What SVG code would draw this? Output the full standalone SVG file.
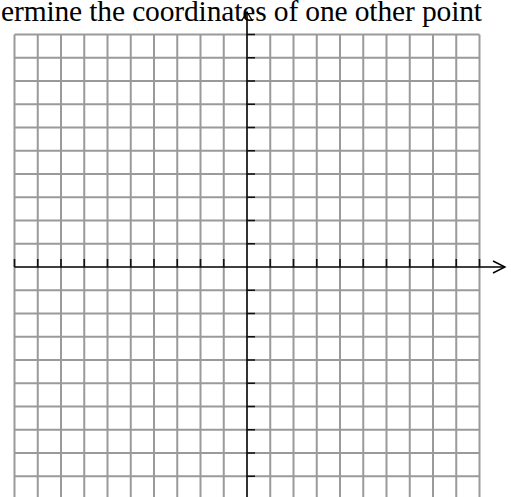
<svg xmlns="http://www.w3.org/2000/svg" width="511" height="497" viewBox="0 0 511 497">
<style>
.grid{stroke:#9a9a9a;stroke-width:2;fill:none}
.axis{stroke:#000;stroke-width:1.6;fill:none}
.tick{stroke:#111;stroke-width:1.6;fill:none}
.arrow{stroke:#000;stroke-width:1.4;fill:none}
.title{font-family:"Liberation Serif","Times New Roman",serif;font-size:29.5px;fill:#000}
</style>
<rect width="511" height="497" fill="#fff"/>
<text id="title" class="title" x="1" y="21" textLength="481" lengthAdjust="spacing">ermine the coordinates of one other point</text>
<g id="grid">
<path class="grid" d="M14.5 34.5V497M37.75 34.5V497M61 34.5V497M84.25 34.5V497M107.5 34.5V497M130.75 34.5V497M154 34.5V497M177.25 34.5V497M200.5 34.5V497M223.75 34.5V497M270.25 34.5V497M293.5 34.5V497M316.75 34.5V497M340 34.5V497M363.25 34.5V497M386.5 34.5V497M409.75 34.5V497M433 34.5V497M456.25 34.5V497M479.5 34.5V497"/>
<path class="grid" d="M14.5 34.5H479.5M14.5 57.75H479.5M14.5 81H479.5M14.5 104.25H479.5M14.5 127.5H479.5M14.5 150.75H479.5M14.5 174H479.5M14.5 197.25H479.5M14.5 220.5H479.5M14.5 243.75H479.5M14.5 290.25H479.5M14.5 313.5H479.5M14.5 336.75H479.5M14.5 360H479.5M14.5 383.25H479.5M14.5 406.5H479.5M14.5 429.75H479.5M14.5 453H479.5M14.5 476.25H479.5"/>
</g>
<g id="axes">
<path class="axis" d="M14.5 267H505M247 12V497"/>
<path class="arrow" d="M493 261L505 267L493 273M241.5 21L247 12L252.5 21"/>
<path class="tick" d="M14.5 259V267M37.75 259V267M61 259V267M84.25 259V267M107.5 259V267M130.75 259V267M154 259V267M177.25 259V267M200.5 259V267M223.75 259V267M270.25 259V267M293.5 259V267M316.75 259V267M340 259V267M363.25 259V267M386.5 259V267M409.75 259V267M433 259V267M456.25 259V267M479.5 259V267"/>
<path class="tick" d="M247 34.5H255M247 57.75H255M247 81H255M247 104.25H255M247 127.5H255M247 150.75H255M247 174H255M247 197.25H255M247 220.5H255M247 243.75H255M247 290.25H255M247 313.5H255M247 336.75H255M247 360H255M247 383.25H255M247 406.5H255M247 429.75H255M247 453H255M247 476.25H255"/>
</g>
</svg>
